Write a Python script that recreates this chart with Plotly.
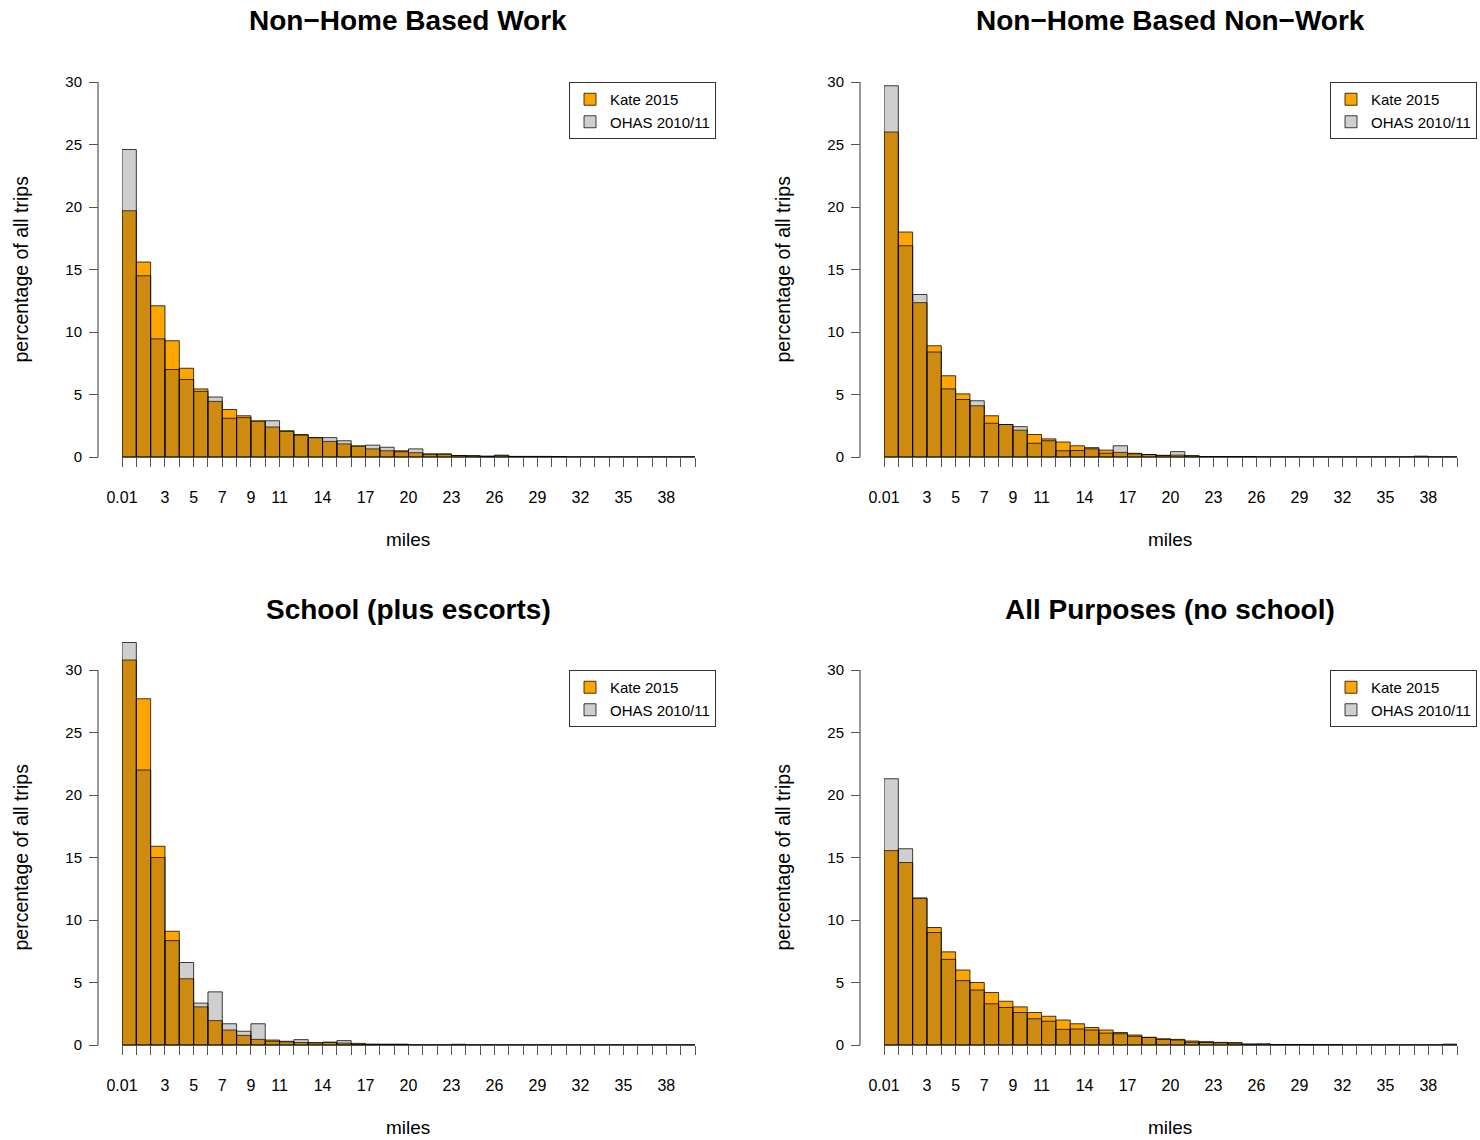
import plotly.graph_objects as go

W, H = 1480, 1140

# ---------------- data ----------------
bin_start = list(range(40))                      # miles bins [k, k+1)
tick_positions = list(range(41))
label_positions = [0, 3, 5, 7, 9, 11, 14, 17, 20, 23, 26, 29, 32, 35, 38]
label_text = ["0.01", "3", "5", "7", "9", "11", "14", "17", "20", "23",
              "26", "29", "32", "35", "38"]
y_ticks = [0, 5, 10, 15, 20, 25, 30]

titles = ["Non\u2212Home Based Work", "Non\u2212Home Based Non\u2212Work",
          "School (plus escorts)", "All Purposes (no school)"]
series_names = ["Kate 2015", "OHAS 2010/11"]

nhbw_kate = [19.7, 15.6, 12.1, 9.3, 7.1, 5.45, 4.45, 3.8, 3.3, 2.88,
             2.4, 2.1, 1.8, 1.55, 1.25, 1.05, 0.88, 0.65, 0.5, 0.5,
             0.35, 0.25, 0.25, 0.12, 0.1, 0.07, 0.1, 0.04, 0.04, 0.04,
             0.03, 0, 0, 0, 0, 0, 0, 0, 0, 0]
nhbw_ohas = [24.6, 14.5, 9.45, 7.0, 6.2, 5.25, 4.8, 3.1, 3.15, 2.88,
             2.9, 2.05, 1.75, 1.55, 1.55, 1.3, 0.88, 0.95, 0.78, 0.42,
             0.65, 0.22, 0.22, 0.12, 0.1, 0.05, 0.15, 0.05, 0.05, 0.05,
             0.04, 0, 0, 0, 0, 0, 0, 0, 0, 0]

nhbnw_kate = [26.0, 18.0, 12.35, 8.9, 6.5, 5.05, 4.1, 3.3, 2.6, 2.15,
              1.8, 1.45, 1.2, 0.9, 0.75, 0.55, 0.37, 0.3, 0.2, 0.13,
              0.15, 0.1, 0.03, 0.03, 0.02, 0.02, 0, 0, 0, 0,
              0, 0, 0, 0, 0, 0, 0, 0, 0, 0]
nhbnw_ohas = [29.7, 16.9, 13.0, 8.4, 5.45, 4.6, 4.5, 2.7, 2.6, 2.43,
              1.1, 1.3, 0.5, 0.52, 0.65, 0.3, 0.9, 0.25, 0.2, 0.13,
              0.43, 0.1, 0.04, 0.04, 0.03, 0.03, 0, 0, 0, 0,
              0, 0, 0, 0, 0, 0, 0, 0.07, 0, 0]

school_kate = [30.8, 27.7, 15.9, 9.1, 5.3, 3.05, 1.95, 1.2, 0.77, 0.45,
               0.4, 0.25, 0.2, 0.18, 0.22, 0.15, 0.13, 0.06, 0.05, 0.05,
               0, 0, 0, 0, 0, 0, 0, 0, 0, 0,
               0, 0, 0, 0, 0, 0, 0, 0, 0, 0]
school_ohas = [32.2, 22.0, 15.0, 8.35, 6.6, 3.35, 4.25, 1.7, 1.1, 1.7,
               0.3, 0.3, 0.43, 0.18, 0.22, 0.35, 0.05, 0.06, 0.06, 0.06,
               0, 0, 0, 0.06, 0, 0, 0, 0, 0, 0,
               0, 0, 0, 0, 0, 0, 0, 0, 0, 0]

allp_kate = [15.55, 14.6, 11.75, 9.4, 7.45, 6.0, 5.0, 4.2, 3.5, 3.05,
             2.6, 2.3, 2.0, 1.7, 1.4, 1.2, 1.0, 0.8, 0.62, 0.5,
             0.45, 0.32, 0.27, 0.21, 0.2, 0.08, 0.08, 0.04, 0.04, 0.04,
             0.03, 0.03, 0, 0, 0, 0, 0, 0, 0, 0]
allp_ohas = [21.3, 15.7, 11.75, 9.0, 6.85, 5.15, 4.4, 3.3, 3.0, 2.6,
             2.1, 1.9, 1.25, 1.28, 1.2, 0.95, 0.9, 0.7, 0.6, 0.45,
             0.4, 0.22, 0.2, 0.18, 0.1, 0.06, 0.08, 0.04, 0.04, 0.04,
             0.03, 0.03, 0, 0, 0, 0, 0, 0, 0, 0.07]

panel_data = [(nhbw_kate, nhbw_ohas), (nhbnw_kate, nhbnw_ohas),
              (school_kate, school_ohas), (allp_kate, allp_ohas)]

# ---------------- styling ----------------
FONT = "Liberation Sans, Arial, Helvetica, sans-serif"
TXT = "#000000"
KATE_COLOR = "#FFA500"
OHAS_COLOR = "rgba(64,64,64,0.25)"
EDGE = "rgba(0,0,0,0.75)"
AXCOL = "#555555"
Y_MAX = 33.0
PX_PER_UNIT = 12.5


def px(x):
    return x / W


def py(y):
    return 1 - y / H


# picture-pixel geometry of each panel
panels = [
    dict(xl=122, xr=695, y0=457, yax=98, leg=(569, 82)),
    dict(xl=884, xr=1457, y0=457, yax=860, leg=(1330, 82)),
    dict(xl=122, xr=695, y0=1045, yax=98, leg=(569, 670)),
    dict(xl=884, xr=1457, y0=1045, yax=860, leg=(1330, 670)),
]

tick_text = [label_text[label_positions.index(t)] if t in label_positions else ""
             for t in tick_positions]

fig = go.Figure()
layout = dict(
    width=W, height=H,
    margin=dict(l=0, r=0, t=0, b=0, autoexpand=False),
    paper_bgcolor="white", plot_bgcolor="white",
    barmode="overlay",
    font=dict(family=FONT, color=TXT),
    showlegend=True,
)
shapes = []
annotations = []

for i, p in enumerate(panels):
    n = "" if i == 0 else str(i + 1)
    xa, ya = "x" + n, "y" + n
    leg = "legend" + n
    kate, ohas = panel_data[i]
    for name, vals, color in ((series_names[0], kate, KATE_COLOR),
                              (series_names[1], ohas, OHAS_COLOR)):
        fig.add_trace(go.Bar(
            x=bin_start, y=vals, width=1, offset=0,
            name=name, xaxis=xa, yaxis=ya, legend=leg,
            marker=dict(color=color, line=dict(color=EDGE, width=1)),
            hovertemplate="%{x} mi: %{y}%<extra>" + name + "</extra>",
        ))
    top_px = p["y0"] - Y_MAX * PX_PER_UNIT
    layout["xaxis" + n] = dict(
        domain=[px(p["xl"]), px(p["xr"])], range=[0, 40], anchor=ya,
        tickmode="array", tickvals=tick_positions, ticktext=tick_text,
        ticks="outside", ticklen=9, tickwidth=1.2, tickcolor=AXCOL,
        showline=True, linecolor=AXCOL, linewidth=1,
        showgrid=False, zeroline=False, ticklabelstandoff=17,
        tickfont=dict(size=16, family=FONT, color=TXT),
    )
    layout["yaxis" + n] = dict(
        domain=[py(p["y0"]), py(top_px)], range=[0, Y_MAX],
        anchor="free", position=px(p["yax"]),
        tickmode="array", tickvals=y_ticks,
        ticks="outside", ticklen=9, tickwidth=1.2, tickcolor=AXCOL,
        showline=False, showgrid=False, zeroline=False,
        ticklabelstandoff=4,
        tickfont=dict(size=15, family=FONT, color=TXT),
    )
    # detached y-axis line from 0 to 30
    shapes.append(dict(type="line", xref="paper", yref=ya,
                       x0=px(p["yax"]), x1=px(p["yax"]), y0=0, y1=y_ticks[-1],
                       line=dict(color=AXCOL, width=1.2)))
    layout[leg] = dict(
        x=px(p["leg"][0]), y=py(p["leg"][1]), xanchor="left", yanchor="top",
        bordercolor="#333333", borderwidth=1, bgcolor="white",
        font=dict(size=15, family=FONT, color=TXT),
        tracegroupgap=0, itemclick=False, itemdoubleclick=False,
    )
    cx = (p["xl"] + p["xr"]) / 2 - 0.5
    title_y = 21 if i < 2 else 609
    annotations.append(dict(text="<b>" + titles[i] + "</b>", xref="paper", yref="paper",
                            x=px(cx), y=py(title_y), xanchor="center", yanchor="middle",
                            showarrow=False, font=dict(size=28, family=FONT, color=TXT)))
    annotations.append(dict(text="miles", xref="paper", yref="paper",
                            x=px(cx), y=py(p["y0"] + 82), xanchor="center", yanchor="middle",
                            showarrow=False, font=dict(size=19, family=FONT, color=TXT)))
    annotations.append(dict(text="percentage of all trips", xref="paper", yref="paper",
                            x=px(p["yax"] - 78), y=py(p["y0"] - 187.5), xanchor="center",
                            yanchor="middle", textangle=-90,
                            showarrow=False, font=dict(size=19.5, family=FONT, color=TXT)))

layout["shapes"] = shapes
layout["annotations"] = annotations
fig.update_layout(**layout)
fig.write_html("out.html",
               config={"displayModeBar": False},
               post_script="document.body.style.margin='0';"
                           "document.body.style.overflow='hidden';")
